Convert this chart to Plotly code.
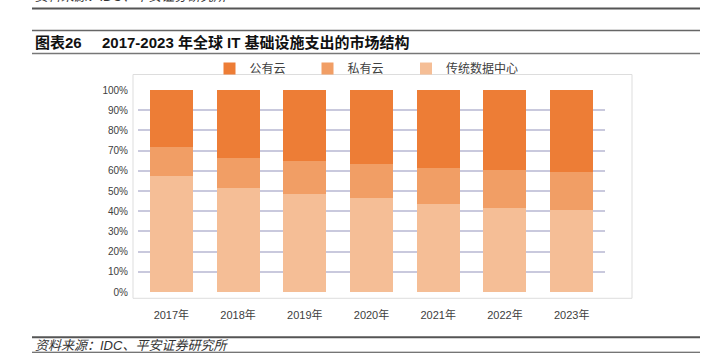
import plotly.graph_objects as go

years = ["2017年", "2018年", "2019年", "2020年", "2021年", "2022年", "2023年"]
traditional = [57.3, 51.7, 48.4, 46.4, 43.8, 41.8, 40.4]
private_cloud = [14.5, 14.5, 16.3, 17.0, 17.4, 18.4, 18.9]
public_cloud = [28.2, 33.8, 35.3, 36.6, 38.8, 39.8, 40.7]

W, H = 717, 359
L, R, T, B = 138, 605, 89.5, 291.7
FONT = "Liberation Sans, Arial, Noto Sans CJK SC, sans-serif"


def px(x):
    return (x - L) / (R - L)


def py(y):
    return (B - y) / (B - T)


fig = go.Figure()
fig.add_bar(name="传统数据中心", x=years, y=traditional, marker_color="#F5BE96", marker_line_width=0, legend="legend3")
fig.add_bar(name="私有云", x=years, y=private_cloud, marker_color="#F19E65", marker_line_width=0, legend="legend2")
fig.add_bar(name="公有云", x=years, y=public_cloud, marker_color="#ED7D36", marker_line_width=0, legend="legend")

shapes = []
# chart frame
shapes.append(dict(type="rect", xref="paper", yref="paper", x0=px(133), x1=px(632), y0=py(298), y1=py(74),
                   line=dict(color="#DDDDDD", width=1), layer="below"))
# header / footer rules
for y, w, c in [(8, 2, "#555555"), (30, 1.5, "#666666"), (53, 1.5, "#777777"), (337, 2, "#555555"), (352, 1, "#444444")]:
    shapes.append(dict(type="line", xref="paper", yref="paper", x0=px(32), x1=px(700), y0=py(y), y1=py(y),
                       line=dict(color=c, width=w)))

annotations = [
    dict(text="资料来源：IDC、平安证券研究所", x=px(33), y=py(-4), xref="paper", yref="paper",
         xanchor="left", yanchor="middle", showarrow=False,
         font=dict(family=FONT, size=13, color="#333333", style="italic")),
    dict(text="<b>图表26</b>", x=px(33), y=py(42), xref="paper", yref="paper",
         xanchor="left", yanchor="middle", showarrow=False,
         font=dict(family=FONT, size=15, color="#111111")),
    dict(text="<b>2017-2023 年全球 IT 基础设施支出的市场结构</b>", x=px(100), y=py(42), xref="paper", yref="paper",
         xanchor="left", yanchor="middle", showarrow=False,
         font=dict(family=FONT, size=15, color="#111111")),
    dict(text="资料来源：IDC、平安证券研究所", x=px(33), y=py(345), xref="paper", yref="paper",
         xanchor="left", yanchor="middle", showarrow=False,
         font=dict(family=FONT, size=13, color="#333333", style="italic")),
]

legend_font = dict(family=FONT, size=12, color="#404040")


def leg(xpix):
    return dict(orientation="h", x=px(xpix), y=py(68), xanchor="left", yanchor="middle",
                font=legend_font, bgcolor="rgba(0,0,0,0)", itemclick=False, itemdoubleclick=False)


fig.update_layout(
    width=W, height=H,
    margin=dict(l=L, r=W - R, t=T, b=H - B, pad=0, autoexpand=False),
    paper_bgcolor="white", plot_bgcolor="white",
    barmode="stack", bargap=0.356,
    showlegend=True,
    legend=leg(209.5), legend2=leg(307.5), legend3=leg(406),
    xaxis=dict(showgrid=False, zeroline=False, showline=False, ticks="outside", ticklen=13,
               tickcolor="rgba(0,0,0,0)",
               tickfont=dict(family=FONT, size=11, color="#404040"), range=[-0.5, 6.5]),
    yaxis=dict(range=[0, 100], dtick=10, ticksuffix="%", showgrid=True, gridcolor="#C9C9DD", gridwidth=1.5,
               zeroline=False, showline=False, ticks="outside", ticklen=7, tickcolor="rgba(0,0,0,0)",
               tickfont=dict(family=FONT, size=10, color="#404040")),
    shapes=shapes, annotations=annotations,
)

fig.write_html("out.html", config={"displayModeBar": False},
               post_script="document.body.style.margin='0';document.body.style.overflow='hidden';")
